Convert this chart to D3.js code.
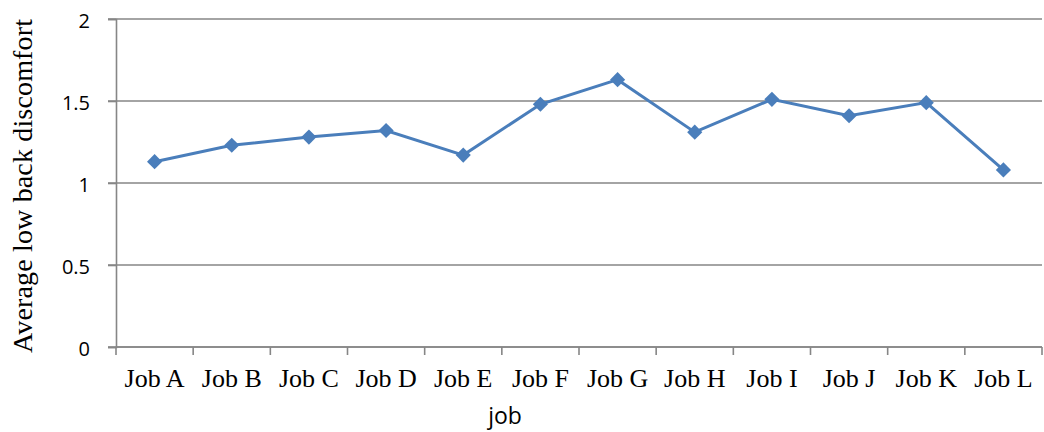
<!DOCTYPE html>
<html>
<head>
<meta charset="utf-8">
<script src="https://cdn.jsdelivr.net/npm/d3@7"></script>
<style>
  html, body { margin: 0; padding: 0; background: #fff; }
  svg { display: block; }
</style>
</head>
<body>
<svg id="chart" width="1044" height="432"></svg>
<script>
// Average low back discomfort per job
const jobs = ["Job A", "Job B", "Job C", "Job D", "Job E", "Job F",
              "Job G", "Job H", "Job I", "Job J", "Job K", "Job L"];
const discomfort = [1.13, 1.23, 1.28, 1.32, 1.17, 1.48,
                    1.63, 1.31, 1.51, 1.41, 1.49, 1.08];
const yTicks = [0, 0.5, 1, 1.5, 2];
const yTickLabels = ["0", "0.5", "1", "1.5", "2"];

const svg = d3.select("#chart");
const plotLeft = 116, plotRight = 1042, plotTop = 19, plotBottom = 347;

const x = d3.scaleBand().domain(jobs).range([plotLeft, plotRight]);
const y = d3.scaleLinear().domain([0, 2]).range([plotBottom, plotTop]);

const gridColor = "#868686";

// horizontal gridlines
svg.append("g")
  .selectAll("line")
  .data(yTicks)
  .join("line")
  .attr("x1", plotLeft - 8)
  .attr("x2", plotRight)
  .attr("y1", d => y(d))
  .attr("y2", d => y(d))
  .attr("stroke", gridColor)
  .attr("stroke-width", 1.6);

// y axis
const yAxis = svg.append("g")
  .attr("transform", `translate(${plotLeft},0)`)
  .call(d3.axisLeft(y).tickValues(yTicks)
    .tickFormat((d, i) => yTickLabels[i])
    .tickSize(8).tickPadding(18));
yAxis.select(".domain").attr("stroke", gridColor).attr("stroke-width", 1.6);
yAxis.selectAll(".tick line").attr("stroke", gridColor).attr("stroke-width", 1.6);
yAxis.selectAll(".tick text")
  .attr("fill", "#000")
  .attr("dy", "0.42em")
  .style("font-family", "'Open Sans', 'Noto Sans', sans-serif")
  .style("font-size", "20px");

// x axis with tick marks at category boundaries
const xAxis = svg.append("g")
  .attr("transform", `translate(0,${plotBottom})`);
xAxis.append("line")
  .attr("x1", plotLeft).attr("x2", plotRight)
  .attr("stroke", gridColor).attr("stroke-width", 1.6);
const boundaries = jobs.map(j => x(j)).concat([x(jobs[jobs.length - 1]) + x.bandwidth()]);
xAxis.selectAll("line.tk")
  .data(boundaries)
  .join("line")
  .attr("class", "tk")
  .attr("x1", d => d).attr("x2", d => d)
  .attr("y1", 0).attr("y2", 8)
  .attr("stroke", gridColor).attr("stroke-width", 1.6);
xAxis.selectAll("text")
  .data(jobs)
  .join("text")
  .attr("x", d => x(d) + x.bandwidth() / 2)
  .attr("y", 40)
  .attr("text-anchor", "middle")
  .style("font-family", "'Liberation Serif', 'Times New Roman', serif")
  .style("font-size", "26px")
  .text(d => d);

// axis titles
svg.append("text")
  .attr("x", 505).attr("y", 424)
  .attr("text-anchor", "middle")
  .style("font-family", "'Open Sans', 'Noto Sans', sans-serif")
  .style("font-size", "23px")
  .text("job");

svg.append("text")
  .attr("transform", "translate(32,186) rotate(-90)")
  .attr("text-anchor", "middle")
  .attr("textLength", 334)
  .attr("lengthAdjust", "spacing")
  .style("font-family", "'Liberation Serif', 'Times New Roman', serif")
  .style("font-size", "28px")
  .text("Average low back discomfort");

// series line and diamond markers
const cx = d => x(d) + x.bandwidth() / 2;
const line = d3.line()
  .x((d, i) => cx(jobs[i]))
  .y(d => y(d));

svg.append("path")
  .datum(discomfort)
  .attr("d", line)
  .attr("fill", "none")
  .attr("stroke", "#4a7ebb")
  .attr("stroke-width", 3);

svg.append("g")
  .selectAll("path")
  .data(discomfort)
  .join("path")
  .attr("transform", (d, i) => `translate(${cx(jobs[i])},${y(d)}) rotate(45)`)
  .attr("d", d3.symbol().type(d3.symbolSquare).size(115))
  .attr("fill", "#4a7ebb");
</script>
</body>
</html>
